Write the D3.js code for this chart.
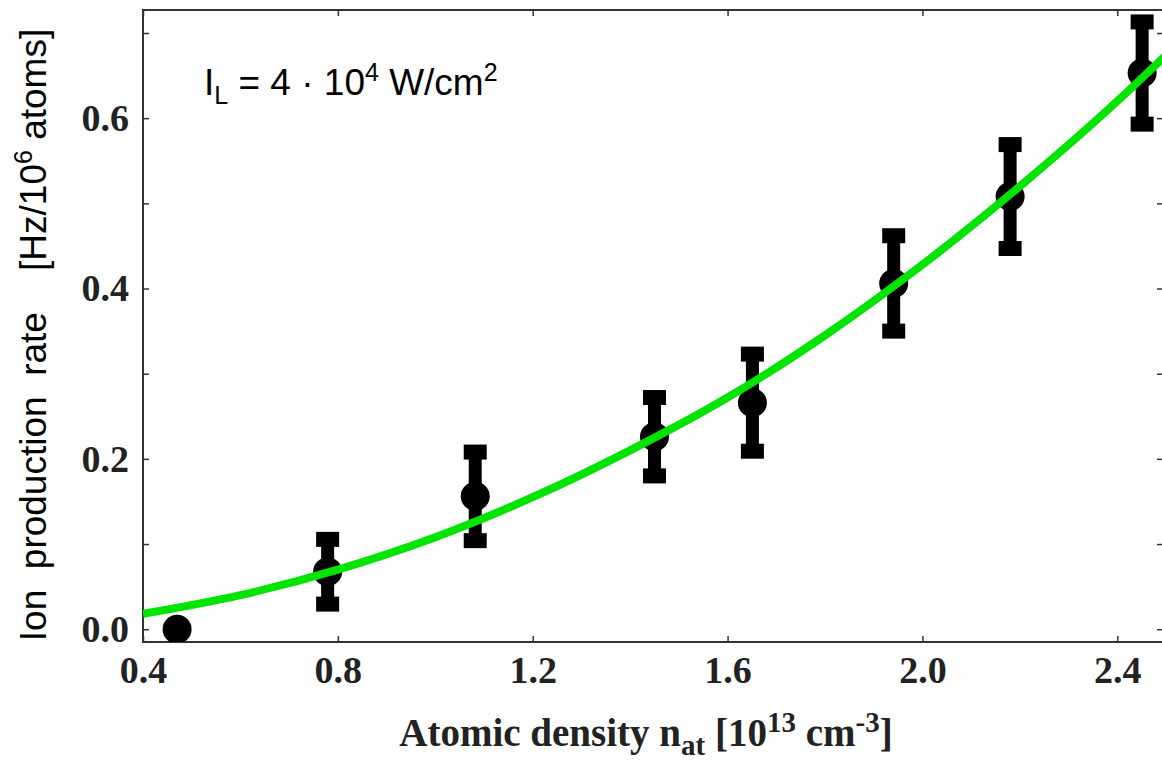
<!DOCTYPE html>
<html lang="en">
<head>
    <meta charset="UTF-8">
    <title>Ion production rate vs atomic density</title>
    <style>
        body {
            margin: 0;
            background: #fff;
        }

        .tick text {
            font-family: "Liberation Serif", "Times New Roman", serif;
            font-weight: bold;
            font-size: 38px;
            fill: #222;
        }

        .tick line {
            stroke: #333;
            stroke-width: 1.5px;
        }

        .domain {
            display: none;
        }

        .frame {
            fill: none;
            stroke: #333;
            stroke-width: 2px;
        }

        .fit {
            fill: none;
            stroke: #00e400;
            stroke-width: 8px;
        }
    </style>
</head>
<body>
    <svg id="chart" width="1162" height="760"></svg>
    <script src="https://cdn.jsdelivr.net/npm/d3@7"></script>
    <script>
        // measured points
        const density = [0.470, 0.779, 1.082, 1.450, 1.651, 1.941, 2.180, 2.451];
        const rate = [0.000, 0.0675, 0.156, 0.226, 0.266, 0.406, 0.508, 0.653];
        const rateErr = [0, 0.038, 0.052, 0.046, 0.057, 0.056, 0.061, 0.060];

        // fitted curve
        const fitX = [0.4, 0.6, 0.8, 1.0, 1.2, 1.4, 1.6, 1.8, 2.0, 2.2, 2.4, 2.5];
        const fitY = [0.018, 0.040, 0.070, 0.108, 0.155, 0.210, 0.272, 0.345, 0.428, 0.520, 0.620, 0.674];

        const xTicks = [0.4, 0.8, 1.2, 1.6, 2.0, 2.4];
        const yTicks = [0.0, 0.2, 0.4, 0.6];
        const yMinor = [0.0, 0.1, 0.2, 0.3, 0.4, 0.5, 0.6, 0.7];

        const plotLeft = 143, plotRight = 1166, plotTop = 10, plotBottom = 642;

        const svg = d3.select("#chart");

        const x = d3.scaleLinear().domain([0.4, 2.5]).range([plotLeft, plotRight]);
        const y = d3.scaleLinear().domain([-0.015, 0.727]).range([plotBottom, plotTop]);

        svg.append("defs").append("clipPath").attr("id", "plot-clip")
            .append("rect")
            .attr("x", plotLeft).attr("y", plotTop)
            .attr("width", plotRight - plotLeft).attr("height", plotBottom - plotTop);

        // axes, ticks pointing inwards
        svg.append("g")
            .attr("transform", "translate(0," + plotBottom + ")")
            .call(d3.axisBottom(x).tickValues(xTicks).tickFormat(d3.format(".1f"))
                .tickSizeInner(-6).tickSizeOuter(0).tickPadding(14));

        svg.append("g")
            .attr("transform", "translate(0," + plotTop + ")")
            .call(d3.axisTop(x).tickValues(xTicks).tickFormat("")
                .tickSizeInner(-6).tickSizeOuter(0));

        svg.append("g")
            .attr("transform", "translate(" + plotLeft + ",0)")
            .call(d3.axisLeft(y).tickValues(yMinor)
                .tickFormat(d => yTicks.includes(d) ? d3.format(".1f")(d) : "")
                .tickSizeInner(-6).tickSizeOuter(0).tickPadding(14));

        svg.append("g")
            .attr("transform", "translate(" + (plotRight - 3) + ",0)")
            .call(d3.axisRight(y).tickValues(yMinor).tickFormat("")
                .tickSizeInner(-6).tickSizeOuter(0));

        svg.append("rect")
            .attr("class", "frame")
            .attr("x", plotLeft).attr("y", plotTop)
            .attr("width", plotRight - plotLeft).attr("height", plotBottom - plotTop);

        // data points with I-beam error bars
        const pts = density.map((d, i) => ({ x: d, y: rate[i], e: rateErr[i] }));
        const marks = svg.append("g").attr("clip-path", "url(#plot-clip)");

        const bars = marks.selectAll(".err")
            .data(pts.filter(p => p.e > 0))
            .enter().append("g")
            .attr("class", "err");

        bars.append("rect")
            .attr("x", d => x(d.x) - 6.5)
            .attr("y", d => y(d.y + d.e))
            .attr("width", 13)
            .attr("height", d => y(d.y - d.e) - y(d.y + d.e));

        bars.append("rect")
            .attr("x", d => x(d.x) - 11.5)
            .attr("y", d => y(d.y + d.e) - 7.5)
            .attr("width", 23).attr("height", 15);

        bars.append("rect")
            .attr("x", d => x(d.x) - 11.5)
            .attr("y", d => y(d.y - d.e) - 7.5)
            .attr("width", 23).attr("height", 15);

        marks.selectAll(".pt")
            .data(pts)
            .enter().append("circle")
            .attr("class", "pt")
            .attr("cx", d => x(d.x))
            .attr("cy", d => y(d.y))
            .attr("r", 14.5)
            .attr("fill", "#000");

        // fit line on top
        const line = d3.line()
            .x(d => x(d[0]))
            .y(d => y(d[1]))
            .curve(d3.curveMonotoneX);

        marks.append("path")
            .attr("class", "fit")
            .attr("d", line(fitX.map((v, i) => [v, fitY[i]])));

        // annotation
        const note = svg.append("text")
            .attr("x", 204).attr("y", 95)
            .style("font-family", "'Liberation Sans', Arial, sans-serif")
            .style("font-size", "37px")
            .attr("fill", "#000");
        note.append("tspan").text("I");
        note.append("tspan").attr("dy", 9).style("font-size", "25px").text("L");
        note.append("tspan").attr("dy", -9).text(" = 4 · 10");
        note.append("tspan").attr("dy", -14).style("font-size", "25px").text("4");
        note.append("tspan").attr("dy", 14).text(" W/cm");
        note.append("tspan").attr("dy", -14).style("font-size", "25px").text("2");

        // x title
        const xt = svg.append("text")
            .attr("x", 646).attr("y", 746)
            .attr("text-anchor", "middle")
            .style("font-family", "'Liberation Serif', 'Times New Roman', serif")
            .style("font-weight", "bold")
            .style("font-size", "39px")
            .attr("fill", "#222");
        xt.append("tspan").text("Atomic density n");
        xt.append("tspan").attr("dy", 9).style("font-size", "29px").text("at");
        xt.append("tspan").attr("dy", -9).text(" [10");
        xt.append("tspan").attr("dy", -14).style("font-size", "29px").text("13");
        xt.append("tspan").attr("dy", 14).text(" cm");
        xt.append("tspan").attr("dy", -14).style("font-size", "29px").text("-3");
        xt.append("tspan").attr("dy", 14).text("]");

        // y title
        const yt = svg.append("text")
            .attr("transform", "translate(46,335) rotate(-90)")
            .attr("text-anchor", "middle")
            .style("font-family", "'Liberation Sans', Arial, sans-serif")
            .style("font-size", "37px")
            .style("white-space", "pre")
            .attr("fill", "#000");
        yt.append("tspan").text("Ion  production  rate    [Hz/10");
        yt.append("tspan").attr("dy", -14).style("font-size", "25px").text("6");
        yt.append("tspan").attr("dy", 14).text(" atoms]");
    </script>
</body>
</html>
